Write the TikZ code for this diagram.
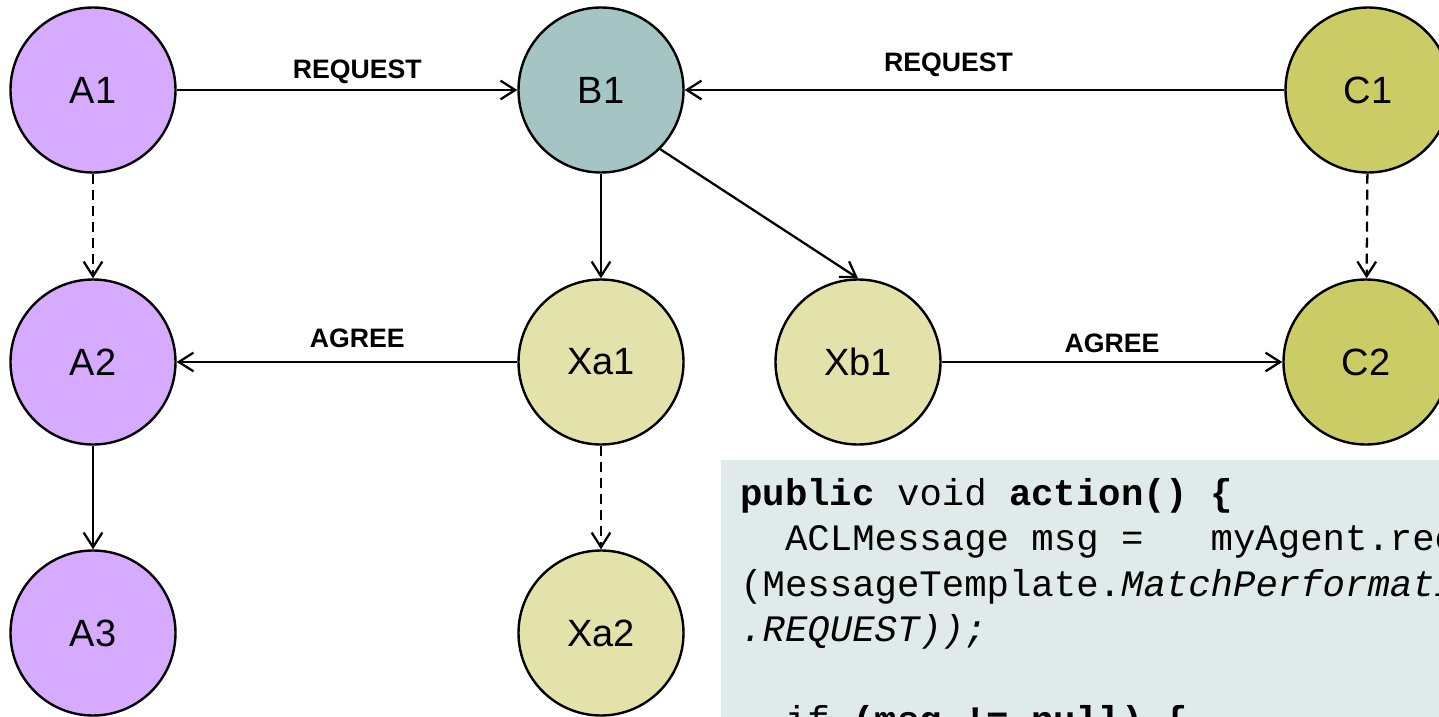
\documentclass[tikz,border=0pt]{standalone}
\usepackage{fontspec}
\setmainfont{Liberation Sans}
\newfontfamily\codefont{Liberation Mono}
\usetikzlibrary{arrows.meta}

\definecolor{agentA}{RGB}{214,170,255}
\definecolor{agentB}{RGB}{165,196,196}
\definecolor{agentC}{RGB}{204,204,102}
\definecolor{agentX}{RGB}{226,226,170}
\definecolor{codebg}{RGB}{223,234,234}

\tikzset{
  agent/.style={circle, draw, line width=1.8pt, minimum size=123.75pt, inner sep=0pt,
    font=\fontsize{28.5}{34}\selectfont},
  msg/.style={line width=1.7pt, -{Straight Barb[length=11pt,width=14pt]}},
  spawn/.style={msg, dash pattern=on 7.5pt off 4.5pt},
  lbl/.style={font=\bfseries\fontsize{20}{24}\selectfont, inner sep=0pt},
  codeline/.style={anchor=base west, inner sep=0pt,
    font=\codefont\fontsize{28}{34}\selectfont},
}

\begin{document}
\begin{tikzpicture}[x=0.75pt,y=0.75pt,yscale=-1,xscale=1]
        \useasboundingbox (0,0) rectangle (1439,717);
        \clip (0,0) rectangle (1439,717);
        % agents
        \node[agent, fill=agentA] (A1) at (93,90) {A1};
        \node[agent, fill=agentB] (B1) at (601,90) {B1};
        \node[agent, fill=agentC] (C1) at (1368,90) {C1};
        \node[agent, fill=agentA] (A2) at (93,362) {A2};
        \node[agent, fill=agentX] (Xa1) at (601,362) {Xa1};
        \node[agent, fill=agentX] (Xb1) at (858,362) {Xb1};
        \node[agent, fill=agentC] (C2) at (1366,362) {C2};
        \node[agent, fill=agentA] (A3) at (93,633) {A3};
        \node[agent, fill=agentX] (Xa2) at (601,633) {Xa2};
        % messages
        \draw[msg] (A1) -- node[lbl, pos=0.53, yshift=13.5pt] {REQUEST} (B1);
        \draw[msg] (C1) -- node[lbl, pos=0.56, yshift=18.75pt] {REQUEST} (B1);
        \draw[msg] (Xa1) -- node[lbl, pos=0.47, yshift=18pt] {AGREE} (A2);
        \draw[msg] (Xb1) -- node[lbl, pos=0.50, yshift=14.25pt] {AGREE} (C2);
        \draw[msg] (B1) -- (Xa1);
        \draw[msg] (B1.south east) -- (Xb1.north);
        \draw[msg] (A2) -- (A3);
        % dashed steps
        \draw[spawn] (A1) -- (A2);
        \draw[spawn] (C1) -- (C2);
        \draw[spawn] (Xa1) -- (Xa2);
        % code listing
        \fill[codebg] (721,460) rectangle (1439,717);
        \foreach \k/\y/\codetxt in {
            1/505/{\textbf{public} void \textbf{action() \{}},
            2/550.5/{~~ACLMessage msg =~~~myAgent.receive},
            3/596/{(MessageTemplate.\textit{MatchPerformative(ACLMessage}},
            4/641.5/{\textit{.REQUEST));}},
            6/732.5/{~~if \textbf{(msg != null) \{}}}
          \node[codeline] (line\k) at (740,\y) {\codetxt};
\end{tikzpicture}
\end{document}
